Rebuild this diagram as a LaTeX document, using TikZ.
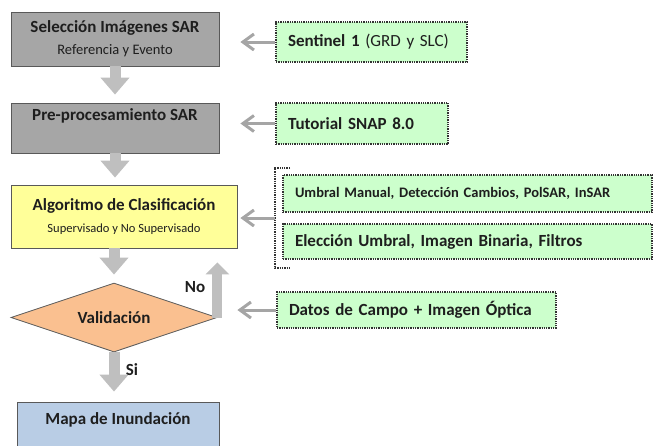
\documentclass[tikz,border=0pt]{standalone}
\usepackage{fontspec}
\setmainfont{Carlito}
\usetikzlibrary{arrows.meta, shapes.geometric}
\definecolor{boxgray}{RGB}{166,166,166}
\definecolor{algyellow}{RGB}{255,255,153}
\definecolor{valpeach}{RGB}{250,192,144}
\definecolor{mapblue}{RGB}{185,205,229}
\definecolor{srcgreen}{RGB}{204,255,204}
\definecolor{flowgray}{RGB}{191,191,191}
\definecolor{linkgray}{RGB}{165,165,165}
\definecolor{txtdark}{RGB}{30,30,30}
\newcommand{\sublbl}[2][13]{{\fontsize{#1}{14}\selectfont\mdseries #2}}

\begin{document}
\begin{tikzpicture}[x=1pt, y=-1pt, font=\fontsize{17}{22}\selectfont\bfseries, text=txtdark]
      % Styles for the flow chart
      \tikzset{stage/.style={draw=black!65, line width=0.8pt, align=center, inner sep=0pt}}
      \tikzset{source/.style={draw=black!80, densely dotted, line width=1.3pt, fill=srcgreen, inner xsep=12pt, inner ysep=0pt, align=left}}
      \tikzset{flow/.style={flowgray, line width=11pt, -{Triangle[length=17pt, width=28pt]}}}
      \tikzset{link/.style={linkgray, line width=3pt, -{Straight Barb[length=11pt, width=16pt]}}}

      \useasboundingbox (0,0) rectangle (656,445);

      % Main stages
      \node[stage, fill=boxgray, minimum width=208pt, minimum height=54pt] (sel) at (115,39) {Selección Imágenes SAR\\\sublbl[14.5]{Referencia y Evento}};
      \node[stage, fill=boxgray, minimum width=208pt, minimum height=50pt] (pre) at (115,128) {Pre-procesamiento SAR\\\sublbl{\strut}};
      \node[stage, fill=algyellow, minimum width=226pt, minimum height=63pt] (clas) at (124,216.5) {Algoritmo de Clasificación\\\sublbl[12.5]{Supervisado y No Supervisado}};
      \node[stage, shape=diamond, aspect=3, fill=valpeach, minimum width=206pt, minimum height=69pt] (val) at (114,317.5) {Validación};
      \node[stage, fill=mapblue, minimum width=202pt, minimum height=60pt] (map) at (118,432) {Mapa de Inundación\\\sublbl{\strut}};

      % Inputs
      \node[source, text width=167pt, minimum height=40pt] (sen) at (371.5,42) {Sentinel 1 \mdseries(GRD y SLC)};
      \node[source, text width=148pt, minimum height=41pt] (snap) at (362,123.5) {Tutorial SNAP 8.0};
      \node[source, text width=345pt, minimum height=37pt, font=\fontsize{14.5}{16}\selectfont\bfseries] (umb) at (467.5,193.5) {Umbral Manual, Detección Cambios, PolSAR, InSAR};
      \node[source, text width=345pt, minimum height=35pt] (ele) at (467.5,241.5) {Elección Umbral, Imagen Binaria, Filtros};
      \node[source, text width=255pt, minimum height=36pt] (dat) at (416.5,310) {Datos de Campo + Imagen Óptica};

      % Bracket round the two algorithm inputs
      \coordinate (brtop) at (290,168);
      \coordinate (brbot) at (290,268);
      \coordinate (brk) at (275,218);
      \draw[black!80, densely dotted, line width=1.3pt] (brtop) -- (brk |- brtop) -- (brk |- brbot) -- (brbot);

      % Flow arrows
      \draw[flow, shorten >=8pt] (sel.south) -- (pre.north);
      \draw[flow, shorten >=7pt] (pre.south) -- (clas.north -| pre.south);
      \draw[flow, shorten >=8pt] (clas.south -| val.north) -- (val.north);
      \draw[flow, shorten >=10pt] (val.south) -- (map.north -| val.south);
      \draw[flow, line width=10pt, -{Triangle[length=12pt, width=23pt]}, shorten >=14pt] (val.east) -- (val.east |- clas.south);
      \node (no) at (195,287) {No};
      \node (si) at (132,370) {Si};

      % Input arrows
      \draw[link, shorten >=21pt] (sen.west) -- (sen.west -| sel.east);
      \draw[link, shorten >=21pt] (snap.west) -- (snap.west -| pre.east);
      \draw[link, shorten >=3pt] (brk) -- (brk -| clas.east);
      \draw[link, shorten >=20pt] (dat.west) -- (dat.west -| val.east);
    \end{tikzpicture}
\end{document}
